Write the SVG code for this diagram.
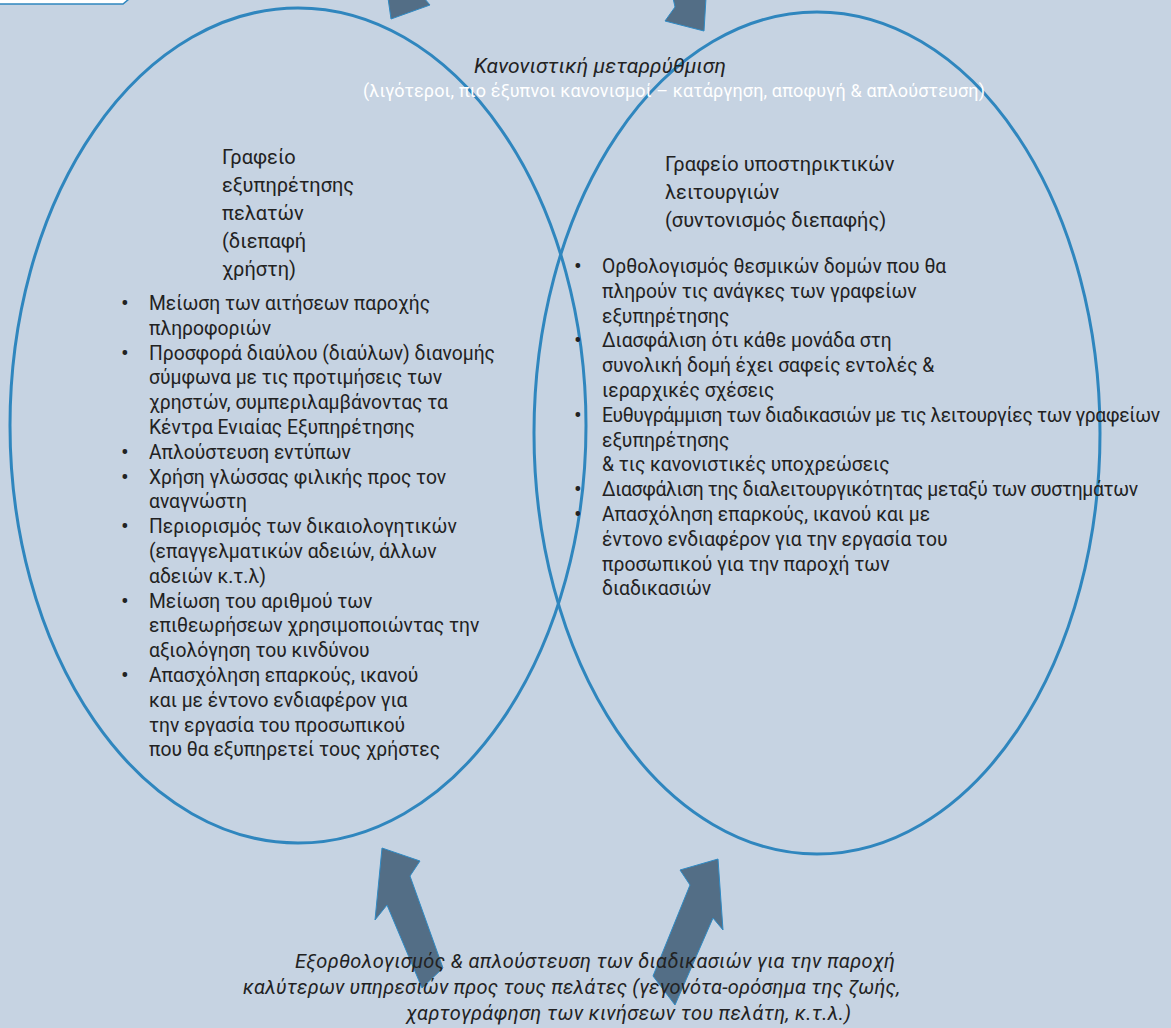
<svg xmlns="http://www.w3.org/2000/svg" width="1171" height="1028" viewBox="0 0 1171 1028">
  <style>
    .bg { fill: #c6d3e2; }
    .oval { fill: none; stroke: #2f86be; stroke-width: 3; }
    .arrow { fill: #536e86; stroke: #2f8ac4; stroke-width: 1; stroke-linejoin: miter; }
    .t { font-family: Roboto, "Noto Sans", "DejaVu Sans", sans-serif; fill: #222222; }
    .title { font-size: 20px; }
    .item { font-size: 19.3px; }
    .dot { font-size: 23px; text-anchor: middle; }
    .it { font-style: italic; }
    .sub { font-family: Roboto, "Noto Sans", "DejaVu Sans", sans-serif; font-size: 18px; fill: #ffffff; }
  </style>

  <rect class="bg" x="0" y="0" width="1171" height="1028"/>

  <!-- corner of a white callout box at the top left -->
  <polygon points="-3,-10 129,-10 129,-1 123,4 -3,4" fill="#ffffff" stroke="#2f86be" stroke-width="1.5"/>

  <!-- block arrows -->
  <g id="connectors">
    <polygon class="arrow" points="388,-2 424,-2 430,5 391,19"/>
    <polygon class="arrow" points="673,-2 706,-2 704,31 665,21 675,7"/>
    <polygon class="arrow" points="382,848 420,861 410,876 443,968 422,988 387,905 375,920"/>
    <polygon class="arrow" points="718,859 723,930 713,918 675,1005 653,976 690,885 680,870"/>
  </g>

  <!-- customer service office -->
  <g id="front-office">
    <ellipse class="oval" cx="298" cy="425.5" rx="288" ry="417.5"/>
    <text class="t title" x="222" y="164">Γραφείο</text>
    <text class="t title" x="222" y="192">εξυπηρέτησης</text>
    <text class="t title" x="222" y="220">πελατών</text>
    <text class="t title" x="222" y="248">(διεπαφή</text>
    <text class="t title" x="222" y="276">χρήστη)</text>
    <g class="t dot">
      <text x="125" y="311">•</text>
      <text x="125" y="360.6">•</text>
      <text x="125" y="459.8">•</text>
      <text x="125" y="484.6">•</text>
      <text x="125" y="534.2">•</text>
      <text x="125" y="608.6">•</text>
      <text x="125" y="683">•</text>
    </g>
    <g class="t item">
      <text x="149" y="310">Μείωση των αιτήσεων παροχής</text>
      <text x="149" y="334.8">πληροφοριών</text>
      <text x="149" y="359.6">Προσφορά διαύλου (διαύλων) διανομής</text>
      <text x="149" y="384.4">σύμφωνα με τις προτιμήσεις των</text>
      <text x="149" y="409.2">χρηστών, συμπεριλαμβάνοντας τα</text>
      <text x="149" y="434">Κέντρα Ενιαίας Εξυπηρέτησης</text>
      <text x="149" y="458.8">Απλούστευση εντύπων</text>
      <text x="149" y="483.6">Χρήση γλώσσας φιλικής προς τον</text>
      <text x="149" y="508.4">αναγνώστη</text>
      <text x="149" y="533.2">Περιορισμός των δικαιολογητικών</text>
      <text x="149" y="558">(επαγγελματικών αδειών, άλλων</text>
      <text x="149" y="582.8">αδειών κ.τ.λ)</text>
      <text x="149" y="607.6">Μείωση του αριθμού των</text>
      <text x="149" y="632.4">επιθεωρήσεων χρησιμοποιώντας την</text>
      <text x="149" y="657.2">αξιολόγηση του κινδύνου</text>
      <text x="149" y="682">Απασχόληση επαρκούς, ικανού</text>
      <text x="149" y="706.8">και με έντονο ενδιαφέρον για</text>
      <text x="149" y="731.6">την εργασία του προσωπικού</text>
      <text x="149" y="756.4">που θα εξυπηρετεί τους χρήστες</text>
    </g>
  </g>

  <!-- support functions office -->
  <g id="back-office">
    <ellipse class="oval" cx="817" cy="433" rx="283" ry="421"/>
    <text class="t title" x="665" y="171">Γραφείο υποστηρικτικών</text>
    <text class="t title" x="665" y="199">λειτουργιών</text>
    <text class="t title" x="665" y="227">(συντονισμός διεπαφής)</text>
    <g class="t dot">
      <text x="578" y="274">•</text>
      <text x="578" y="348.4">•</text>
      <text x="578" y="422.8">•</text>
      <text x="578" y="497.2">•</text>
      <text x="578" y="522">•</text>
    </g>
    <g class="t item">
      <text x="602" y="273">Ορθολογισμός θεσμικών δομών που θα</text>
      <text x="602" y="297.8">πληρούν τις ανάγκες των γραφείων</text>
      <text x="602" y="322.6">εξυπηρέτησης</text>
      <text x="602" y="347.4">Διασφάλιση ότι κάθε μονάδα στη</text>
      <text x="602" y="372.2">συνολική δομή έχει σαφείς εντολές &amp;</text>
      <text x="602" y="397">ιεραρχικές σχέσεις</text>
      <text x="602" y="421.8" textLength="558">Ευθυγράμμιση των διαδικασιών με τις λειτουργίες των γραφείων</text>
      <text x="602" y="446.6">εξυπηρέτησης</text>
      <text x="602" y="471.4">&amp; τις κανονιστικές υποχρεώσεις</text>
      <text x="602" y="496.2" textLength="536">Διασφάλιση της διαλειτουργικότητας μεταξύ των συστημάτων</text>
      <text x="602" y="521">Απασχόληση επαρκούς, ικανού και με</text>
      <text x="602" y="545.8">έντονο ενδιαφέρον για την εργασία του</text>
      <text x="602" y="570.6">προσωπικού για την παροχή των</text>
      <text x="602" y="595.4">διαδικασιών</text>
    </g>
  </g>

  <!-- regulatory reform heading -->
  <g id="regulatory-reform">
    <text class="t it" x="474" y="73" font-size="21" textLength="252">Κανονιστική μεταρρύθμιση</text>
    <text class="sub" x="363" y="97" textLength="622">(λιγότεροι, πιο έξυπνοι κανονισμοί – κατάργηση, αποφυγή &amp; απλούστευση)</text>
  </g>

  <!-- process simplification caption -->
  <g id="process-simplification" class="t it" font-size="20">
    <text x="295" y="968" textLength="600">Εξορθολογισμός &amp; απλούστευση των διαδικασιών για την παροχή</text>
    <text x="243" y="994" textLength="657">καλύτερων υπηρεσιών προς τους πελάτες (γεγονότα-ορόσημα της ζωής,</text>
    <text x="406" y="1020" textLength="445">χαρτογράφηση των κινήσεων του πελάτη, κ.τ.λ.)</text>
  </g>
</svg>
